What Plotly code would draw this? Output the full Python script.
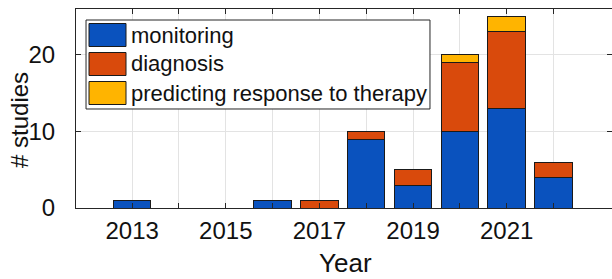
import plotly.graph_objects as go

years = [2013, 2014, 2015, 2016, 2017, 2018, 2019, 2020, 2021, 2022]
monitoring = [1, 0, 0, 1, 0, 9, 3, 10, 13, 4]
diagnosis = [0, 0, 0, 0, 1, 1, 2, 9, 10, 2]
predicting = [0, 0, 0, 0, 0, 0, 0, 1, 2, 0]
series_names = ["monitoring", "diagnosis", "predicting response to therapy"]
series_colors = ["#0A52BE", "#D94A0C", "#FFB400"]
x_tick_labels = ["2013", "", "2015", "", "2017", "", "2019", "", "2021", ""]
y_ticks = [0, 10, 20]

FONT = "Liberation Sans, Arial, sans-serif"
TXT = "#111111"
AX = "#262626"

fig = go.Figure()
for name, vals, col in zip(series_names, [monitoring, diagnosis, predicting], series_colors):
    fig.add_trace(go.Bar(
        x=years, y=vals, name=name, width=0.8,
        marker=dict(color=col, line=dict(color="#1a1a1a", width=1)),
        showlegend=False,
    ))

# custom legend (MATLAB-like large swatches)
L, R, T, B = 0.0187, 0.6604, 0.9447, 0.4975
shapes = [dict(type="rect", xref="paper", yref="paper", x0=L, x1=R, y0=B, y1=T,
               line=dict(color=AX, width=1), fillcolor="white", layer="above")]
annotations = []
row_h = 29 / 199
top_center = (208 - 35) / 199
for i, (name, col) in enumerate(zip(series_names, series_colors)):
    yc = top_center - i * row_h
    shapes.append(dict(type="rect", xref="paper", yref="paper",
                       x0=13 / 536, x1=50 / 536, y0=yc - 11.5 / 199, y1=yc + 11.5 / 199,
                       line=dict(color="#1a1a1a", width=1), fillcolor=col, layer="above"))
    annotations.append(dict(xref="paper", yref="paper", x=53 / 536, y=yc,
                            xanchor="left", yanchor="middle", text=name, showarrow=False,
                            font=dict(family=FONT, size=22, color=TXT)))

annotations.append(dict(xref="paper", yref="paper", x=0.503, y=(208 - 263) / 199,
                        xanchor="center", yanchor="middle", text="Year", showarrow=False,
                        font=dict(family=FONT, size=26, color=TXT)))
annotations.append(dict(xref="paper", yref="paper", x=-57 / 536, y=(208 - 120) / 199,
                        xanchor="center", yanchor="middle", text="# studies", showarrow=False,
                        textangle=-90, font=dict(family=FONT, size=24, color=TXT)))

fig.update_layout(
    width=612, height=279,
    margin=dict(l=76, r=0, t=9, b=71, pad=0, autoexpand=False),
    barmode="stack",
    plot_bgcolor="white", paper_bgcolor="white",
    font=dict(family=FONT, color=TXT),
    shapes=shapes, annotations=annotations,
    showlegend=False,
)
fig.update_xaxes(
    range=[2011.8, 2023.25], tickmode="array", tickvals=years, ticktext=x_tick_labels,
    ticks="inside", ticklen=5, tickcolor=AX, showline=True, linecolor=AX, linewidth=1,
    mirror="ticks", showgrid=True, gridcolor="#E3E3E3", gridwidth=1, zeroline=False,
    tickfont=dict(family=FONT, size=24, color=TXT), ticklabelstandoff=1, automargin=False,
)
fig.update_yaxes(
    range=[0, 26], tickmode="array", tickvals=y_ticks,
    ticks="inside", ticklen=5, tickcolor=AX, showline=True, linecolor=AX, linewidth=1,
    mirror="ticks", showgrid=True, gridcolor="#E3E3E3", gridwidth=1, zeroline=False,
    tickfont=dict(family=FONT, size=24, color=TXT), ticklabelstandoff=15, automargin=False,
)

fig.write_html(
    "out.html",
    config={"displayModeBar": False},
    post_script="document.body.style.margin='0';document.body.style.overflow='hidden';",
)
